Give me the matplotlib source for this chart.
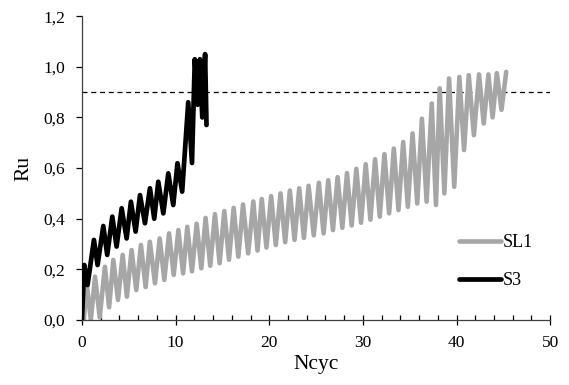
import matplotlib
matplotlib.use("Agg")
import matplotlib.pyplot as plt
from matplotlib.ticker import MultipleLocator, FuncFormatter

# SL1: cycle peaks and troughs of Ru against number of cycles
sl1_start = (0.2, 0.0)
sl1_peak_n = [0.5, 1.4, 2.45, 3.35, 4.35, 5.3, 6.3, 7.25, 8.3, 9.3, 10.3, 11.25,
              12.25, 13.2, 14.2, 15.2, 16.2, 17.2, 18.3, 19.2, 20.2, 21.2, 22.2,
              23.2, 24.2, 25.3, 26.3, 27.3, 28.3, 29.3, 30.3, 31.3, 32.3, 33.3,
              34.3, 35.3, 36.3, 37.35, 38.2, 39.2, 40.3, 41.3, 42.4, 43.4, 44.3,
              45.3]
sl1_peak_ru = [0.145, 0.171, 0.21, 0.237, 0.257, 0.276, 0.296, 0.309, 0.322,
               0.342, 0.355, 0.368, 0.38, 0.403, 0.418, 0.43, 0.443, 0.456,
               0.468, 0.478, 0.489, 0.50, 0.511, 0.52, 0.53, 0.542, 0.552,
               0.564, 0.58, 0.597, 0.615, 0.635, 0.655, 0.677, 0.703, 0.737,
               0.795, 0.855, 0.915, 0.954, 0.96, 0.967, 0.97, 0.97, 0.975, 0.98]
sl1_trough_n = [0.95, 1.9, 2.9, 3.85, 4.8, 5.8, 6.8, 7.8, 8.8, 9.8, 10.8, 11.75,
                12.75, 13.7, 14.7, 15.7, 16.7, 17.75, 18.75, 19.7, 20.7, 21.7,
                22.7, 23.7, 24.75, 25.8, 26.8, 27.8, 28.8, 29.8, 30.8, 31.8,
                32.8, 33.8, 34.8, 35.8, 36.8, 37.8, 38.7, 39.75, 40.8, 41.85,
                42.9, 43.85, 44.8]
sl1_trough_ru = [0.0, 0.01, 0.05, 0.079, 0.092, 0.118, 0.13, 0.145, 0.158,
                 0.178, 0.184, 0.192, 0.204, 0.214, 0.224, 0.238, 0.25, 0.263,
                 0.274, 0.286, 0.296, 0.307, 0.316, 0.324, 0.334, 0.342, 0.355,
                 0.364, 0.373, 0.384, 0.396, 0.408, 0.421, 0.434, 0.447, 0.46,
                 0.467, 0.454, 0.50, 0.526, 0.671, 0.73, 0.776, 0.80, 0.83]

# S3: turning points of the record
s3_n = [0.0, 0.25, 0.6, 1.28, 1.67, 2.28, 2.7, 3.24, 3.7, 4.24, 4.77, 5.23,
        5.73, 6.2, 6.73, 7.26, 7.72, 8.15, 8.69, 9.22, 9.75, 10.2, 10.7,
        11.35, 11.75, 12.05, 12.35, 12.6, 12.85, 13.15, 13.3]
s3_ru = [0.0, 0.217, 0.138, 0.316, 0.217, 0.371, 0.257, 0.408, 0.29, 0.441,
         0.322, 0.467, 0.349, 0.493, 0.382, 0.52, 0.40, 0.546, 0.421, 0.579,
         0.454, 0.619, 0.507, 0.86, 0.62, 1.03, 0.85, 1.03, 0.80, 1.05, 0.77]

ru_limit = 0.9

# interleave SL1 peaks and troughs into one trace
sl1_n = [sl1_start[0]]
sl1_ru = [sl1_start[1]]
for i in range(len(sl1_peak_n)):
    sl1_n.append(sl1_peak_n[i])
    sl1_ru.append(sl1_peak_ru[i])
    if i < len(sl1_trough_n):
        sl1_n.append(sl1_trough_n[i])
        sl1_ru.append(sl1_trough_ru[i])

plt.rcParams['font.family'] = ['Liberation Serif', 'DejaVu Serif']

fig = plt.figure(figsize=(5.69, 3.85), dpi=100)
ax = fig.add_axes([0.144, 0.169, 0.823, 0.789])

ax.plot(sl1_n, sl1_ru, color='#a6a6a6', lw=3.3, solid_joinstyle='round',
        solid_capstyle='round', label='SL1', zorder=2)
ax.plot(s3_n, s3_ru, color='black', lw=3.4, solid_joinstyle='round',
        solid_capstyle='round', label='S3', zorder=3)
ax.axhline(ru_limit, color='black', lw=0.9, dashes=(4, 3), zorder=1)

ax.set_xlim(0, 50)
ax.set_ylim(0, 1.2)
ax.xaxis.set_major_locator(MultipleLocator(10))
ax.xaxis.set_minor_locator(MultipleLocator(2))
ax.yaxis.set_major_locator(MultipleLocator(0.2))
ax.yaxis.set_major_formatter(FuncFormatter(lambda v, p: f"{v:.1f}".replace('.', ',')))

for side in ['top', 'right']:
    ax.spines[side].set_visible(False)
for side in ['left', 'bottom']:
    ax.spines[side].set_linewidth(0.9)
    ax.spines[side].set_color('#404040')

ax.tick_params(axis='x', which='major', direction='inout', length=7, width=0.9,
               labelsize=12.5, pad=7)
ax.tick_params(axis='x', which='minor', direction='in', length=3.5, width=0.9)
ax.tick_params(axis='y', which='major', direction='out', length=4, width=0.9,
               labelsize=12.5, pad=8)

ax.set_xlabel('Ncyc', fontsize=15.5, labelpad=3)
ax.set_ylabel('Ru', fontsize=15.5, labelpad=7)

ax.legend(loc='upper left', bbox_to_anchor=(0.79, 0.307), frameon=False,
          fontsize=13, handlelength=2.3, handletextpad=0.1, labelspacing=1.17,
          borderaxespad=0)

fig.savefig('out.png', dpi=100)
